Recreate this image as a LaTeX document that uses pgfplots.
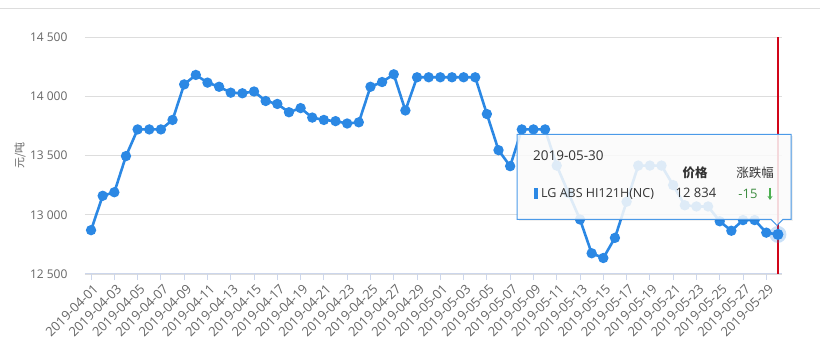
\documentclass[border=0pt]{standalone}
\usepackage{pgfplots}
\usepackage{pgfplotstable}
\pgfplotsset{compat=1.18}
\usetikzlibrary{arrows.meta}
\usepackage{fontspec}
\setmainfont{Open Sans}
\newfontfamily\cjk{Noto Sans CJK SC}
\definecolor{series}{HTML}{2B88E4}
\definecolor{gridc}{HTML}{DDDDDD}
\definecolor{axisc}{HTML}{CCD6EB}
\definecolor{labc}{HTML}{666666}
\definecolor{tipc}{HTML}{333333}
\definecolor{tipgreen}{HTML}{4CAF50}
\definecolor{crossc}{rgb}{0.82,0.02,0.1}

\pgfplotstableread{
idx price
0 12870
1 13160
2 13190
3 13495
4 13720
5 13720
6 13720
7 13800
8 14100
9 14180
10 14115
11 14080
12 14030
13 14025
14 14040
15 13960
16 13935
17 13865
18 13900
19 13820
20 13800
21 13790
22 13770
23 13780
24 14080
25 14120
26 14185
27 13880
28 14160
29 14160
30 14160
31 14160
32 14160
33 14160
34 13850
35 13545
36 13410
37 13720
38 13720
39 13720
40 13415
41 13185
42 12960
43 12675
44 12635
45 12805
46 13110
47 13415
48 13415
49 13415
50 13250
51 13080
52 13070
53 13070
54 12945
55 12865
56 12955
57 12955
58 12849
59 12834
}\pricedata

\begin{document}
\begin{tikzpicture}[x=1pt,y=1pt]
\path[use as bounding box] (0,0) rectangle (820,351);
\draw[gridc, line width=1pt] (0,342) -- (820,342);
\begin{axis}[
  at={(85pt,77pt)}, anchor=south west,
  scale only axis, width=697pt, height=237pt,
  xmin=-0.52, xmax=59.35, ymin=12500, ymax=14500,
  axis lines*=left,
  y axis line style={draw=none},
  x axis line style={axisc, line width=1pt},
  ymajorgrids, grid style={gridc, line width=0.8pt},
  scaled y ticks=false,
  xtick={0,2,...,58},
  xticklabels={2019-04-01,2019-04-03,2019-04-05,2019-04-07,2019-04-09,2019-04-11,2019-04-13,2019-04-15,2019-04-17,2019-04-19,2019-04-21,2019-04-23,2019-04-25,2019-04-27,2019-04-29,2019-05-01,2019-05-03,2019-05-05,2019-05-07,2019-05-09,2019-05-11,2019-05-13,2019-05-15,2019-05-17,2019-05-19,2019-05-21,2019-05-23,2019-05-25,2019-05-27,2019-05-29},
  tick align=outside, major tick length=6pt,
  xtick style={axisc, line width=1pt},
  ytick style={draw=none},
  xticklabel style={rotate=45, anchor=east, inner sep=1pt, yshift=-8pt, font=\fontsize{13}{13}\selectfont, text=labc},
  ytick={12500,13000,13500,14000,14500},
  yticklabels={12 500,13 000,13 500,14 000,14 500},
  yticklabel style={anchor=east, xshift=-8pt, font=\fontsize{12}{12}\selectfont, text=labc},
  ylabel={\cjk 元/吨},
  ylabel style={at={(axis description cs:-0.0933,0.5)}, anchor=center, font=\fontsize{11}{11}\selectfont, text=labc},
  clip=false,
]
\addplot[color=crossc, line width=1.2pt, mark=none, forget plot] coordinates {(59,12500) (59,14500)};
\addplot[color=series, line width=2.6pt, mark=*, mark size=3.8pt, mark options={fill=series, draw=none}] table[x=idx, y=price] {\pricedata};
\addplot[color=series, only marks, mark=*, mark size=8.5pt, mark options={fill=series, fill opacity=0.25, draw opacity=0}] coordinates {(59,12834)};
\addplot[color=series, only marks, mark=*, mark size=5.5pt, mark options={fill=series, draw opacity=0}] coordinates {(59,12834)};
\end{axis}
% tooltip
\fill[black, opacity=0.06] (519,129.7) rectangle (793,214.7);
\fill[black, opacity=0.05] (518,130.7) rectangle (792,215.7);
\path[fill=white, fill opacity=0.85, draw=series!85, line width=1pt]
  (517,131.7) -- (771,131.7) -- (777,125.5) -- (783,131.7) -- (791,131.7) -- (791,216.7) -- (517,216.7) -- cycle;
\node[anchor=west, inner sep=0pt, font=\fontsize{13.5}{13.5}\selectfont, text=tipc] at (533,195) {2019-05-30};
\node[inner sep=0pt, font=\cjk\bfseries\fontsize{12.5}{12.5}\selectfont, text=tipc] at (695,178) {价格};
\node[inner sep=0pt, font=\cjk\fontsize{12.5}{12.5}\selectfont, text=tipc] at (755,178) {涨跌幅};
\fill[series] (534,152) rectangle (537.5,163);
\node[anchor=west, inner sep=0pt, font=\fontsize{12.5}{12.5}\selectfont, text=tipc] at (541,157) {LG ABS HI121H(NC)};
\node[inner sep=0pt, font=\fontsize{13}{13}\selectfont, text=tipc] at (696,158) {12 834};
\node[inner sep=0pt, font=\fontsize{13}{13}\selectfont, text=tipgreen!80!black] at (748,157) {-15};
\draw[tipgreen, line width=1.4pt, -{Stealth[length=4pt,width=5pt]}] (770,163) -- (770,151);
\end{tikzpicture}
\end{document}
